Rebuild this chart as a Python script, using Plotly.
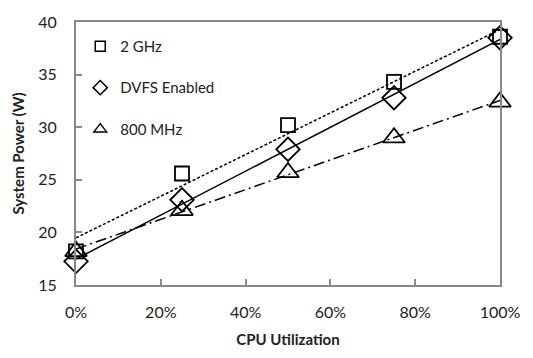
import numpy as np
import plotly.graph_objects as go

utilization = [0, 25, 50, 75, 100]
power_2ghz = [18.2, 25.6, 30.2, 34.3, 38.6]
power_dvfs = [17.25, 23.1, 27.9, 32.8, 38.5]
power_800 = [18.2, 22.1, 25.7, 29.0, 32.4]

series = [
    ("2 GHz", power_2ghz, "square-open", "3px,2px", 14, 10),
    ("DVFS Enabled", power_dvfs, "diamond-open", "solid", 18, 11),
    ("800 MHz", power_800, "triangle-up-open", "11px,4px,2px,4px", 19, 11),
]

FONT = "Lato, 'Open Sans', sans-serif"
fig = go.Figure()
xs = np.array(utilization, dtype=float)
for name, ys, sym, dash, msize, lsize in series:
    k, b = np.polyfit(xs, np.array(ys), 1)
    xl = np.array([xs.min(), xs.max()])
    fig.add_trace(go.Scatter(x=xl, y=k * xl + b, mode="lines",
                             line=dict(color="black", width=1.5, dash=dash),
                             showlegend=False, hoverinfo="skip"))
for name, ys, sym, dash, msize, lsize in series:
    fig.add_trace(go.Scatter(x=utilization, y=ys, mode="markers", name=name,
                             showlegend=False, cliponaxis=False,
                             marker=dict(symbol=sym, size=msize, color="black",
                                         line=dict(color="black", width=1.8))))
    # legend-only entry with a smaller marker, as in the reference
    fig.add_trace(go.Scatter(x=[None], y=[None], mode="markers", name=name,
                             legendgroup=name,
                             marker=dict(symbol=sym, size=lsize, color="black",
                                         line=dict(color="black", width=1.5))))

fig.update_layout(
    width=533, height=358,
    margin=dict(l=76, r=25, t=16, b=72),
    plot_bgcolor="white", paper_bgcolor="white",
    font=dict(family=FONT, size=16, color="#222"),
    legend=dict(x=0.01, y=0.97, xanchor="left", yanchor="top",
                bgcolor="rgba(0,0,0,0)", font=dict(size=15, color="#222"),
                tracegroupgap=19, itemwidth=30),
    xaxis=dict(range=[0, 100], tickvals=[0, 20, 40, 60, 80, 100],
               ticktext=["0%", "20%", "40%", "60%", "80%", "100%"],
               showgrid=False, zeroline=False, showline=True, linecolor="#888",
               linewidth=2, mirror=True, ticks="inside", ticklen=6, tickcolor="#888",
               tickwidth=2, ticklabelstandoff=12,
               title=dict(text="<b>CPU Utilization</b>", font=dict(size=15), standoff=14)),
    yaxis=dict(range=[15, 40], tickvals=[15, 20, 25, 30, 35, 40],
               showgrid=False, zeroline=False, showline=True, linecolor="#888",
               linewidth=2, mirror=True, ticks="inside", ticklen=6, tickcolor="#888",
               tickwidth=2, ticklabelstandoff=14,
               title=dict(text="<b>System Power (W)</b>", font=dict(size=15), standoff=10)),
)

fig.write_html("out.html")
